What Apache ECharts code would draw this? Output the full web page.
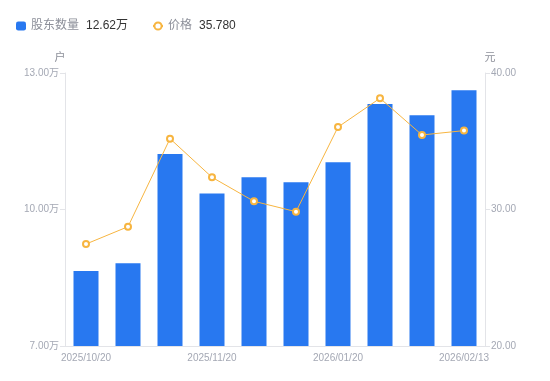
<!DOCTYPE html>
<html><head><meta charset="utf-8">
<script src="https://cdn.jsdelivr.net/npm/echarts@6/dist/echarts.min.js"></script>
<style>html,body{margin:0;padding:0;background:#fff}#c{width:550px;height:381px}</style>
</head><body><div id="c"></div>
<script>
var categories = ['2025/10/20','2025/10/31','2025/11/10','2025/11/20','2025/11/30','2025/12/31','2026/01/20','2026/01/31','2026/02/10','2026/02/13'];
var holders = [8.65, 8.82, 11.22, 10.35, 10.71, 10.60, 11.04, 12.32, 12.07, 12.62];
var prices = [27.47, 28.74, 35.19, 32.36, 30.60, 29.84, 36.04, 38.15, 35.46, 35.78];
var leftTicks = {min: 7, max: 13, interval: 3};
var rightTicks = {min: 20, max: 40, interval: 10};

var chart = echarts.init(document.getElementById('c'));
var labelColor = '#a4a8b4';
var font = '"Liberation Sans", Arial, "Noto Sans CJK SC", sans-serif';
chart.setOption({
  animation: false,
  textStyle: {fontFamily: font},
  legend: {
    left: 11, top: 15, itemWidth: 10, itemHeight: 9, itemGap: 24,
    textStyle: {
      fontFamily: font,
      rich: {
        n: {color: '#8c8f99', fontSize: 12, fontFamily: font},
        v: {color: '#333', fontSize: 12, fontFamily: font, padding: [0,0,0,7]}
      }
    },
    formatter: function (name) {
      if (name === '股东数量') return '{n|股东数量}{v|' + holders[holders.length-1].toFixed(2) + '万}';
      return '{n|价格}{v|' + prices[prices.length-1].toFixed(3) + '}';
    },
    data: [{name: '股东数量', icon: 'roundRect'}, {name: '价格'}]
  },
  grid: {left: 65, right: 65, top: 73, bottom: 35},
  xAxis: {
    type: 'category', data: categories,
    axisLine: {lineStyle: {color: '#e3e4e8'}},
    axisTick: {show: false},
    axisLabel: {color: labelColor, fontSize: 10, interval: 2, margin: 7}
  },
  yAxis: [{
    type: 'value', name: '户', min: leftTicks.min, max: leftTicks.max, interval: leftTicks.interval,
    nameTextStyle: {color: '#8c8f99', fontSize: 11, padding: [0, 10, 0, 0]},
    nameGap: 10,
    axisLine: {show: true, lineStyle: {color: '#e3e4e8'}},
    axisTick: {show: true, length: 5, lineStyle: {color: '#e3e4e8'}},
    splitLine: {show: false},
    axisLabel: {color: labelColor, fontSize: 10, margin: 6, formatter: function (v) { return v.toFixed(2) + '万'; }}
  }, {
    type: 'value', name: '元', min: rightTicks.min, max: rightTicks.max, interval: rightTicks.interval,
    nameTextStyle: {color: '#8c8f99', fontSize: 11, padding: [0, 0, 0, 10]},
    nameGap: 10,
    axisLine: {show: true, lineStyle: {color: '#e3e4e8'}},
    axisTick: {show: true, length: 5, lineStyle: {color: '#e3e4e8'}},
    splitLine: {show: false},
    axisLabel: {color: labelColor, fontSize: 10, margin: 6, formatter: function (v) { return v.toFixed(2); }}
  }],
  series: [{
    name: '股东数量', type: 'bar', data: holders, yAxisIndex: 0, barWidth: 25,
    itemStyle: {color: '#2878f0'}
  }, {
    name: '价格', type: 'line', data: prices, yAxisIndex: 1,
    symbol: 'emptyCircle', symbolSize: 6,
    lineStyle: {color: '#f7b540', width: 1},
    itemStyle: {color: '#f7b540', borderWidth: 2}
  }]
});
</script></body></html>
